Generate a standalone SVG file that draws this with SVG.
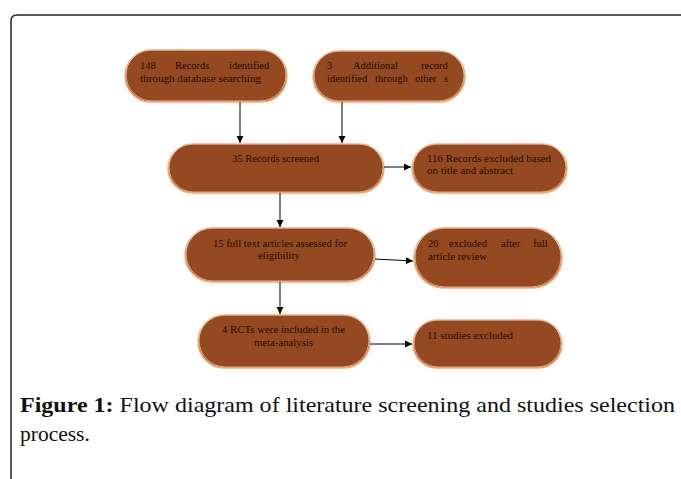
<svg xmlns="http://www.w3.org/2000/svg" width="681" height="479" viewBox="0 0 681 479">
<defs>
<style>
.box{fill:#954920;stroke:#eba97c;stroke-width:1.4}
.rim{fill:none;stroke:#fbdcc2;stroke-width:0.7}
.t{font-family:"Liberation Serif","DejaVu Serif",serif;font-size:10.5px;fill:#1c0d05}
.c{fill:none;stroke:#000;stroke-width:1}
.cap{font-family:"Liberation Serif","DejaVu Serif",serif;font-size:21.5px;fill:#111}
</style>
<marker id="ah" markerWidth="8" markerHeight="8" refX="7" refY="4" orient="auto" markerUnits="userSpaceOnUse">
<path d="M0,0.5 L7,4 L0,7.5 Z" fill="#000"/>
</marker>
</defs>
<rect width="681" height="479" fill="#fff"/>
<path d="M11,479 L11,21 Q11,15 17,15 L681,15" fill="none" stroke="#222" stroke-width="1.5"/>

<g id="n1">
<rect class="box" x="125" y="50" width="162" height="52" rx="26"/>
<rect class="rim" x="126" y="49" width="160" height="52" rx="26"/>
<text class="t" y="69"><tspan x="140">148</tspan><tspan x="175">Records</tspan><tspan x="229">identified</tspan></text>
<text class="t" x="140" y="82" textLength="121" lengthAdjust="spacingAndGlyphs">through database searching</text>
</g>
<g id="n2">
<rect class="box" x="313" y="51" width="152" height="51" rx="25.5"/>
<rect class="rim" x="314" y="50" width="150" height="51" rx="25.5"/>
<text class="t" y="69"><tspan x="327">3</tspan><tspan x="353">Additional</tspan><tspan x="421">record</tspan></text>
<text class="t" y="82"><tspan x="327">identified</tspan><tspan x="375">through</tspan><tspan x="415">other</tspan><tspan x="444">s</tspan></text>
</g>
<g id="n3">
<rect class="box" x="168" y="144" width="216" height="49" rx="24.5"/>
<rect class="rim" x="169" y="143" width="214" height="49" rx="24.5"/>
<text class="t" x="232" y="162" textLength="87" lengthAdjust="spacingAndGlyphs">35 Records screened</text>
</g>
<g id="n4">
<rect class="box" x="412" y="144" width="155" height="49" rx="24.5"/>
<rect class="rim" x="413" y="143" width="153" height="49" rx="24.5"/>
<text class="t" x="427" y="162" textLength="124" lengthAdjust="spacingAndGlyphs">116 Records excluded based</text>
<text class="t" x="427" y="174" textLength="86" lengthAdjust="spacingAndGlyphs">on title and abstract</text>
</g>
<g id="n5">
<rect class="box" x="185" y="228" width="190" height="54" rx="27"/>
<rect class="rim" x="186" y="227" width="188" height="54" rx="27"/>
<text class="t" x="213" y="247" textLength="134" lengthAdjust="spacingAndGlyphs">15 full text articles assessed for</text>
<text class="t" x="258" y="259" textLength="42" lengthAdjust="spacingAndGlyphs">eligibility</text>
</g>
<g id="n6">
<rect class="box" x="414" y="228" width="148" height="60" rx="30"/>
<rect class="rim" x="415" y="227" width="146" height="60" rx="30"/>
<text class="t" y="247"><tspan x="428">20</tspan><tspan x="449">excluded</tspan><tspan x="501">after</tspan><tspan x="533">full</tspan></text>
<text class="t" x="428" y="260" textLength="59" lengthAdjust="spacingAndGlyphs">article review</text>
</g>
<g id="n7">
<rect class="box" x="198" y="315" width="172" height="53" rx="26.5"/>
<rect class="rim" x="199" y="314" width="170" height="53" rx="26.5"/>
<text class="t" x="222" y="333" textLength="123" lengthAdjust="spacingAndGlyphs">4 RCTs were included in the</text>
<text class="t" x="254" y="346" textLength="59" lengthAdjust="spacingAndGlyphs">meta-analysis</text>
</g>
<g id="n8">
<rect class="box" x="413" y="320" width="149" height="48" rx="24"/>
<rect class="rim" x="414" y="319" width="147" height="48" rx="24"/>
<text class="t" x="427" y="339" textLength="86" lengthAdjust="spacingAndGlyphs">11 studies excluded</text>
</g>

<g id="connectors">
<path class="c" d="M240,102 L240,143" marker-end="url(#ah)"/>
<path class="c" d="M342,102 L342,143" marker-end="url(#ah)"/>
<path class="c" d="M384,167 L411,167" marker-end="url(#ah)"/>
<path class="c" d="M280,193 L280,227" marker-end="url(#ah)"/>
<path class="c" d="M375,259 L413,261" marker-end="url(#ah)"/>
<path class="c" d="M280,282 L280,314" marker-end="url(#ah)"/>
<path class="c" d="M370,344 L412,344" marker-end="url(#ah)"/>
</g>

<g id="caption">
<text class="cap" x="20" y="412" textLength="655" lengthAdjust="spacingAndGlyphs"><tspan font-weight="bold">Figure 1:</tspan> Flow diagram of literature screening and studies selection</text>
<text class="cap" x="20" y="441">process.</text>
</g>
</svg>
